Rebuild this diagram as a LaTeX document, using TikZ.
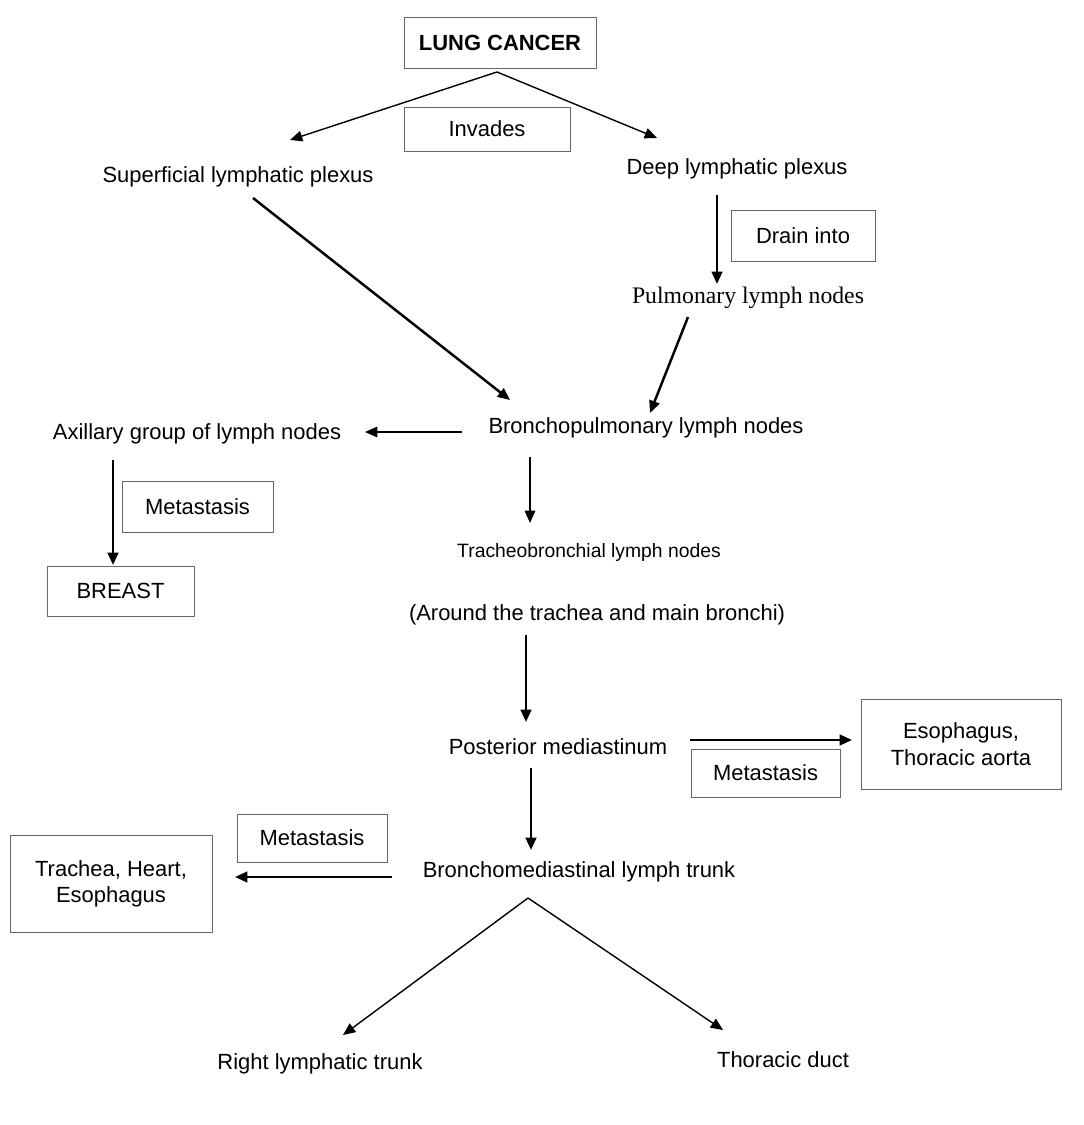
\documentclass[tikz,border=0pt]{standalone}
\usepackage{fontspec}
\setmainfont{Liberation Sans}
\newfontfamily\seriff{Liberation Serif}
\usetikzlibrary{arrows.meta}
\begin{document}
\begin{tikzpicture}[x=0.02cm,y=-0.02cm,
  txt/.style={font=\fontsize{12.5}{15}\selectfont, inner sep=0pt},
  box/.style={draw=black!60, line width=0.5pt, rectangle, inner sep=0pt, font=\fontsize{12.5}{15}\selectfont, align=center},
  arr/.style={-{Triangle[length=7pt,width=6pt]}, line width=0.8pt},
  tarr/.style={-{Triangle[length=7pt,width=6pt]}, line width=1.4pt}]
\useasboundingbox (0,0) rectangle (1083,1125);
% nodes
\node[box, minimum width=3.84cm, minimum height=1.02cm, font=\fontsize{12.5}{15}\selectfont\bfseries] (lc) at (500,42.5) {LUNG CANCER};
\node[box, minimum width=3.32cm, minimum height=0.88cm] (inv) at (487,129) {Invades};
\node[txt] (sup) at (238,177) {Superficial lymphatic plexus};
\node[txt] (deep) at (737,169) {Deep lymphatic plexus};
\node[box, minimum width=2.88cm, minimum height=1.02cm] (drain) at (803,235.5) {Drain into};
\node[txt, font=\seriff\fontsize{13.5}{16}\selectfont] (pul) at (748,298) {Pulmonary lymph nodes};
\node[txt] (bron) at (646,428) {Bronchopulmonary lymph nodes};
\node[txt] (axi) at (197,434) {Axillary group of lymph nodes};
\node[box, minimum width=3.02cm, minimum height=1.02cm] (met1) at (197.5,506.5) {Metastasis};
\node[box, minimum width=2.94cm, minimum height=1.0cm] (breast) at (120.5,591) {BREAST};
\node[txt, font=\fontsize{11}{13}\selectfont] (trach) at (589,552) {Tracheobronchial lymph nodes};
\node[txt] (around) at (597,615) {(Around the trachea and main bronchi)};
\node[txt] (post) at (558,747) {Posterior mediastinum};
\node[box, minimum width=2.98cm, minimum height=0.96cm] (met2) at (765.5,773) {Metastasis};
\node[box, minimum width=4.0cm, minimum height=1.8cm] (eso) at (961,744) {Esophagus,\\Thoracic aorta};
\node[txt] (bmt) at (579,872) {Bronchomediastinal lymph trunk};
\node[box, minimum width=3.0cm, minimum height=0.96cm] (met3) at (312,838) {Metastasis};
\node[box, minimum width=4.04cm, minimum height=1.94cm] (the) at (111,883.5) {Trachea, Heart,\\Esophagus};
\node[txt] (rlt) at (320,1064) {Right lymphatic trunk};
\node[txt] (td) at (783,1060) {Thoracic duct};
% coordinates
\coordinate (a1) at (497,72);
\coordinate (a2) at (528,898);
% connectors
\draw[arr] (a1) -- (290,140);
\draw[arr] (a1) -- (657,138);
\draw[tarr] (253,198) -- (510,400);
\draw[tarr] (717,195) -- (717,284);
\draw[tarr] (688,317) -- (650,413);
\draw[arr] (462,432) -- (365,432);
\draw[tarr] (113,460) -- (113,565);
\draw[arr] (530,457) -- (530,523);
\draw[tarr] (526,635) -- (526,722);
\draw[tarr] (690,740) -- (852,740);
\draw[tarr] (531,768) -- (531,850);
\draw[tarr] (392,877) -- (235,877);
\draw[arr] (a2) -- (343,1035);
\draw[arr] (a2) -- (723,1030);
\end{tikzpicture}
\end{document}
